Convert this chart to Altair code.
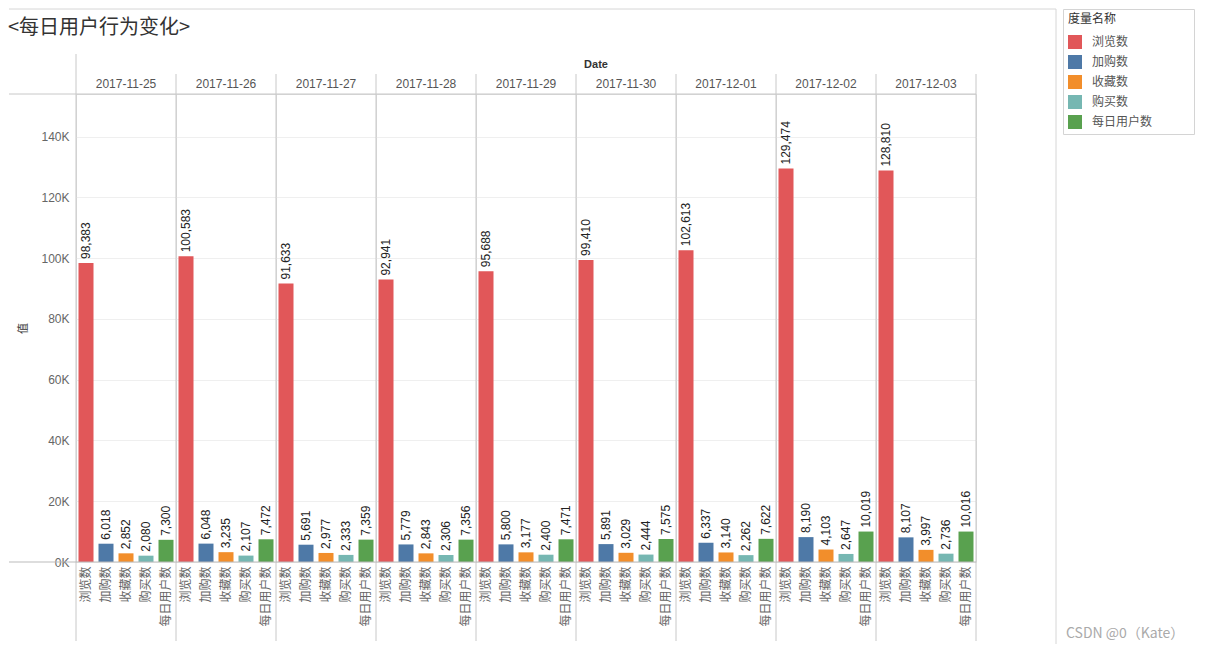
import altair as alt
import pandas as pd

dates = ["2017-11-25", "2017-11-26", "2017-11-27", "2017-11-28", "2017-11-29",
         "2017-11-30", "2017-12-01", "2017-12-02", "2017-12-03"]
measures = ["浏览数", "加购数", "收藏数", "购买数", "每日用户数"]
colors = ["#e15759", "#4e79a7", "#f28e2b", "#76b7b2", "#59a14f"]

views = [98383, 100583, 91633, 92941, 95688, 99410, 102613, 129474, 128810]
carts = [6018, 6048, 5691, 5779, 5800, 5891, 6337, 8190, 8107]
favs = [2852, 3235, 2977, 2843, 3177, 3029, 3140, 4103, 3997]
buys = [2080, 2107, 2333, 2306, 2400, 2444, 2262, 2647, 2736]
users = [7300, 7472, 7359, 7356, 7471, 7575, 7622, 10019, 10016]

series = [views, carts, favs, buys, users]
rows = []
for i, d in enumerate(dates):
    for m, s in zip(measures, series):
        rows.append({"Date": d, "measure": m, "value": s[i]})
df = pd.DataFrame(rows)

NUMFONT = "Liberation Sans"
CJK = "Noto Sans CJK SC"
LINE = "#c8c8c8"
H = 468

x_enc = alt.X("measure:N", sort=measures, title=None,
              scale=alt.Scale(paddingInner=0.25, paddingOuter=0.125),
              axis=alt.Axis(labelAngle=270, labelFontSize=12, labelColor="#666",
                            labelFont=CJK, ticks=False, domain=False, labelPadding=4,
                            grid=False))
y_enc = alt.Y("value:Q", title="值",
              scale=alt.Scale(domain=[0, 154000], nice=False),
              axis=alt.Axis(values=[0, 20000, 40000, 60000, 80000, 100000, 120000, 140000],
                            labelExpr="datum.value / 1000 + 'K'", labelFontSize=12,
                            labelColor="#666", labelFont=NUMFONT, ticks=False, domain=False,
                            labelPadding=7, grid=True, gridColor="#efefef",
                            titleFont=CJK, titleFontSize=11, titleFontWeight="normal",
                            titleColor="#333", titlePadding=12))

base = alt.Chart(df)

pad = "\u2800" * 4

bars = base.mark_bar().encode(
    x=x_enc, y=y_enc,
    color=alt.Color("measure:N", sort=measures,
                    scale=alt.Scale(domain=measures, range=colors),
                    legend=alt.Legend(title="度量名称", orient="none",
                                      legendX=987, legendY=-85,
                                      symbolType="square", symbolSize=196,
                                      symbolStrokeWidth=0, labelFontSize=12,
                                      labelColor="#555", labelFont=CJK,
                                      labelExpr="datum.label + '" + pad + "'",
                                      titleFont=CJK, titleFontSize=12,
                                      titleColor="#333", titleFontWeight="normal",
                                      rowPadding=6, padding=5,
                                      strokeColor="#d4d4d4", fillColor="white",
                                      titlePadding=9, labelOffset=10)),
)

text = base.mark_text(angle=270, align="left", baseline="middle", dx=4,
                      fontSize=12, font=NUMFONT, color="#222").encode(
    x=alt.X("measure:N", sort=measures),
    y=alt.Y("value:Q"),
    text=alt.Text("value:Q", format=","),
)

one = base.transform_filter(alt.datum.measure == "浏览数")
first = one.transform_filter(alt.datum.Date == dates[0])
last = one.transform_filter(alt.datum.Date == dates[-1])
others = one.transform_filter(alt.datum.Date != dates[0])

vleft_first = first.mark_rule(color=LINE).encode(
    x=alt.value(0), y=alt.value(-40), y2=alt.value(547))
vleft = others.mark_rule(color=LINE).encode(
    x=alt.value(0), y=alt.value(-20), y2=alt.value(547))
vright = last.mark_rule(color=LINE).encode(
    x=alt.value(100), y=alt.value(-20), y2=alt.value(547))
htop = one.mark_rule(color=LINE).encode(
    x=alt.value(0), x2=alt.value(100), y=alt.value(0))
hbot = one.mark_rule(color="#bbbbbb").encode(
    x=alt.value(0), x2=alt.value(100), y=alt.value(H))
htop_l = first.mark_rule(color=LINE).encode(
    x=alt.value(-67), x2=alt.value(0), y=alt.value(0))
hbot_l = first.mark_rule(color="#bbbbbb").encode(
    x=alt.value(-67), x2=alt.value(0), y=alt.value(H))
frame_top = first.mark_rule(color="#d6d6d6").encode(
    x=alt.value(-67), x2=alt.value(980), y=alt.value(-85))
frame_right = last.mark_rule(color="#d6d6d6").encode(
    x=alt.value(180), y=alt.value(-85), y2=alt.value(550))
wm = last.mark_text(align="left", baseline="middle", fontSize=14, font=CJK,
                    color="#aaaaaa").encode(
    x=alt.value(190), y=alt.value(540), text=alt.value("CSDN @0（Kate）"))

layered = alt.layer(bars, text, vleft_first, vleft, vright, htop, hbot,
                    htop_l, hbot_l, frame_top, frame_right, wm).properties(width=100, height=H)

chart = layered.facet(
    column=alt.Column("Date:N", sort=dates, title="Date",
                      header=alt.Header(labelOrient="top", titleOrient="top",
                                        labelFontSize=12, labelColor="#555",
                                        labelFont=NUMFONT, labelPadding=3,
                                        titleFontSize=11, titleFont=NUMFONT,
                                        titleColor="#333", titleFontWeight="bold",
                                        titlePadding=-2)),
    spacing=0,
    bounds="flush",
).properties(
    title=alt.TitleParams("<每日用户行为变化>", anchor="start", fontSize=20,
                          font=CJK, fontWeight="normal", color="#333", offset=-30),
    padding={"left": 0, "top": 0, "right": 0, "bottom": 0},
).configure_view(stroke=None).configure(background="white")

chart.save("out.html", embed_options={"renderer": "svg", "actions": False})
